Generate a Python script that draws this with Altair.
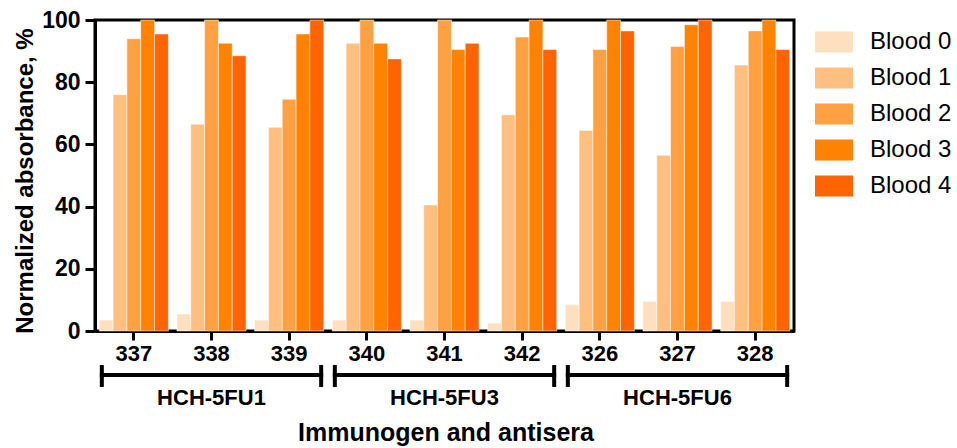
import altair as alt
import pandas as pd

samples = ["337", "338", "339", "340", "341", "342", "326", "327", "328"]
groups = ["HCH-5FU1", "HCH-5FU3", "HCH-5FU6"]
group_first = ["337", "340", "326"]
group_mid = ["338", "341", "327"]
group_last = ["339", "342", "328"]
bloods = ["Blood 0", "Blood 1", "Blood 2", "Blood 3", "Blood 4"]
blood0 = [3.5, 5.5, 3.5, 3.5, 3.5, 2.5, 8.5, 9.5, 9.5]
blood1 = [76, 66.5, 65.5, 92.5, 40.5, 69.5, 64.5, 56.5, 85.5]
blood2 = [94, 100, 74.5, 100, 100, 94.5, 90.5, 91.5, 96.5]
blood3 = [100, 92.5, 95.5, 92.5, 90.5, 100, 100, 98.5, 100]
blood4 = [95.5, 88.5, 100, 87.5, 92.5, 90.5, 96.5, 100, 90.5]
colors = ["#FEDFC0", "#FFBF80", "#FFA043", "#FF8200", "#FF6400"]
y_ticks = [0, 20, 40, 60, 80, 100]

series = [blood0, blood1, blood2, blood3, blood4]
rows = []
for b, vals in zip(bloods, series):
    for s, v in zip(samples, vals):
        rows.append({"sample": s, "blood": b, "value": v})
df = pd.DataFrame(rows)

gdf = pd.DataFrame({"group": groups, "sample": group_first, "sample_end": group_last})
gleft = pd.DataFrame({"sample": group_first})
gright = pd.DataFrame({"sample": group_last})
gmid = pd.DataFrame({"sample": group_mid, "group": groups})

W, H = 699, 311
FONT = "Liberation Sans"

bars = alt.Chart(df).mark_bar(stroke="white", strokeWidth=0.7, strokeOpacity=0.7).encode(
    x=alt.X("sample:N", sort=samples,
            scale=alt.Scale(domain=samples, paddingInner=0.11, paddingOuter=0.055),
            axis=alt.Axis(title=None, labelAngle=0, labelFontSize=22, labelFontWeight="bold",
                          labelFont=FONT, tickSize=9, tickWidth=3, tickColor="black",
                          domainWidth=3, domainColor="black", labelPadding=3,
                          labelColor="black")),
    xOffset=alt.XOffset("blood:N", sort=bloods, scale=alt.Scale(paddingInner=0, paddingOuter=0)),
    y=alt.Y("value:Q", scale=alt.Scale(domain=[0, 100], nice=False),
            axis=alt.Axis(title=None, values=y_ticks, grid=False, labelFontSize=23,
                          labelFontWeight="bold", labelFont=FONT, tickSize=10, tickWidth=3,
                          tickColor="black", domainWidth=3, domainColor="black",
                          labelPadding=5, labelColor="black")),
    color=alt.Color("blood:N", sort=bloods, scale=alt.Scale(domain=bloods, range=colors),
                    legend=alt.Legend(title=None, orient="none", legendX=720, legendY=3,
                                      symbolType="M-1,-0.55L1,-0.55L1,0.55L-1,0.55Z",
                                      symbolSize=1444, symbolStrokeWidth=0, symbolOpacity=1,
                                      labelFontSize=24, labelFont=FONT, labelOffset=17,
                                      rowPadding=5, padding=0, labelColor="black")),
)

bracket = alt.Chart(gdf).mark_rule(strokeWidth=4, color="black", xOffset=-34, x2Offset=34).encode(
    x=alt.X("sample:N", sort=samples), x2="sample_end:N", y=alt.value(355)
)
cap_l = alt.Chart(gleft).mark_rule(strokeWidth=4, color="black", xOffset=-32).encode(
    x=alt.X("sample:N", sort=samples), y=alt.value(345), y2=alt.value(367)
)
cap_r = alt.Chart(gright).mark_rule(strokeWidth=4, color="black", xOffset=32).encode(
    x=alt.X("sample:N", sort=samples), y=alt.value(345), y2=alt.value(367)
)
glabels = alt.Chart(gmid).mark_text(fontSize=22, fontWeight="bold", font=FONT,
                                    baseline="alphabetic", align="center", color="black").encode(
    x=alt.X("sample:N", sort=samples), y=alt.value(385), text="group:N"
)
xtitle = alt.Chart(pd.DataFrame({"t": ["Immunogen and antisera"]})).mark_text(
    fontSize=25, fontWeight="bold", font=FONT, baseline="alphabetic", align="center", color="black"
).encode(x=alt.value(351), y=alt.value(421), text="t:N")
ytitle = alt.Chart(pd.DataFrame({"t": ["Normalized absorbance, %"]})).mark_text(
    fontSize=24, fontWeight="bold", font=FONT, baseline="alphabetic", align="center",
    angle=270, color="black"
).encode(x=alt.value(-62), y=alt.value(161), text="t:N")

chart = alt.layer(bars, bracket, cap_l, cap_r, glabels, xtitle, ytitle).properties(
    width=W, height=H,
    autosize=alt.AutoSizeParams(type="none"),
    padding={"left": 95, "top": 20, "right": 957 - 95 - W, "bottom": 448 - 20 - H},
    background="white",
).configure(font=FONT).configure_view(stroke="black", strokeWidth=3)

chart.save("out.html", embed_options={"renderer": "svg", "actions": False})
